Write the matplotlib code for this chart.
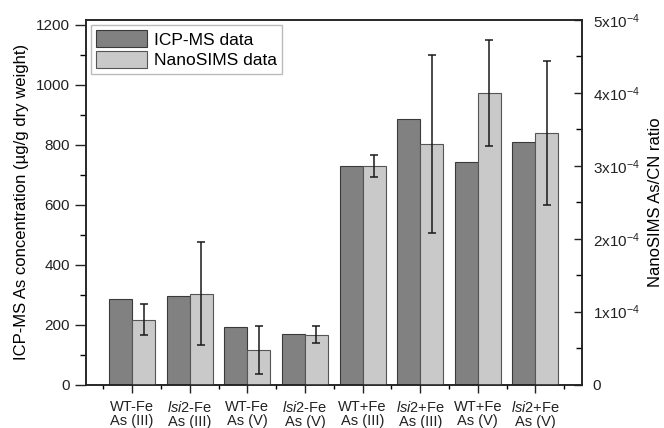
import matplotlib
matplotlib.use("Agg")
import matplotlib.pyplot as plt
import numpy as np
from matplotlib.ticker import FixedLocator, FuncFormatter

plt.rcParams['font.family'] = ['Liberation Sans', 'DejaVu Sans']
plt.rcParams['mathtext.fontset'] = 'custom'
plt.rcParams['mathtext.rm'] = 'Liberation Sans'
plt.rcParams['mathtext.it'] = 'Liberation Sans:italic'

categories = ['WT-Fe\nAs (III)', '$\\mathit{lsi2}$-Fe\nAs (III)', 'WT-Fe\nAs (V)', '$\\mathit{lsi2}$-Fe\nAs (V)',
              'WT+Fe\nAs (III)', '$\\mathit{lsi2}$+Fe\nAs (III)', 'WT+Fe\nAs (V)', '$\\mathit{lsi2}$+Fe\nAs (V)']
icpms = [286, 296, 192, 170, 728, 887, 744, 809]
nanosims = [0.888e-4, 1.247e-4, 0.475e-4, 0.686e-4, 3.00e-4, 3.30e-4, 4.00e-4, 3.45e-4]
nanosims_err = [0.21e-4, 0.71e-4, 0.33e-4, 0.12e-4, 0.15e-4, 1.22e-4, 0.73e-4, 0.99e-4]

dark = '#818181'
light = '#c9c9c9'
edge = '#3a3a3a'

fig = plt.figure(figsize=(6.64, 4.28), dpi=100)
ax = fig.add_axes([0.1295, 0.1016, 0.7463, 0.8517])
ax2 = ax.twinx()

x = np.arange(1, len(categories) + 1)
w = 0.4
b1 = ax.bar(x - w / 2, icpms, width=w, color=dark, edgecolor=edge, linewidth=0.8, label='ICP-MS data')
b2 = ax2.bar(x + w / 2, nanosims, width=w, color=light, edgecolor='#555555', linewidth=0.8, label='NanoSIMS data')
ax2.errorbar(x + w / 2, nanosims, yerr=nanosims_err, fmt='none', ecolor='#1a1a1a',
             elinewidth=1.1, capsize=3, capthick=1.1)

ax.set_xlim(0.2, 8.8)
ax.set_ylim(0, 1216.7)
ax2.set_ylim(0, 5e-4)

ax.yaxis.set_major_locator(FixedLocator([0, 200, 400, 600, 800, 1000, 1200]))
ax.yaxis.set_minor_locator(FixedLocator([100, 300, 500, 700, 900, 1100]))
ax.tick_params(axis='y', which='major', direction='out', length=8, width=1, labelsize=11, colors='#222222')
ax.tick_params(axis='y', which='minor', direction='out', length=4, width=1)

ax.set_xticks(x)
ax.set_xticklabels(categories, fontsize=10.5, linespacing=1.0)
ax.xaxis.set_minor_locator(FixedLocator(np.arange(0.5, 9.0, 1.0)))
ax.tick_params(axis='x', which='major', direction='out', length=6, width=1, pad=5, colors='#222222')
ax.tick_params(axis='x', which='minor', direction='out', length=3, width=1)
ax.tick_params(top=False, which='both')

def fmt(v, pos):
    if abs(v) < 1e-12:
        return '0'
    n = int(round(v / 1e-4))
    return '%dx10$^{-4}$' % n

ax2.yaxis.set_major_locator(FixedLocator([0, 1e-4, 2e-4, 3e-4, 4e-4, 5e-4]))
ax2.yaxis.set_minor_locator(FixedLocator([0.5e-4, 1.5e-4, 2.5e-4, 3.5e-4, 4.5e-4]))
ax2.yaxis.set_major_formatter(FuncFormatter(fmt))
ax2.tick_params(axis='y', which='major', direction='in', length=6, width=1, labelsize=11, pad=8, colors='#222222')
ax2.tick_params(axis='y', which='minor', direction='in', length=4, width=1)

for a in (ax, ax2):
    for s in a.spines.values():
        s.set_linewidth(1.1)
        s.set_color('#222222')

ax.set_ylabel('ICP-MS As concentration (\u00b5g/g dry weight)', fontsize=12, labelpad=5)
ax2.set_ylabel('NanoSIMS As/CN ratio', fontsize=12, labelpad=6)

leg = ax.legend([b1, b2], ['ICP-MS data', 'NanoSIMS data'], loc='upper left', fontsize=12.5,
                frameon=True, fancybox=False, edgecolor='#bbbbbb', framealpha=1,
                handlelength=2.9, handleheight=1.1, handletextpad=0.4, borderpad=0.3,
                labelspacing=0.2, borderaxespad=0.3)
leg.get_frame().set_linewidth(1.0)

fig.savefig('out.png', dpi=100)
